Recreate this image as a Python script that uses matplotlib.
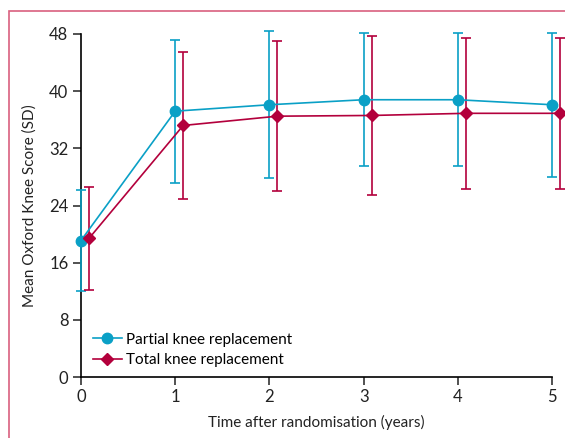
import matplotlib.pyplot as plt
import numpy as np
from matplotlib.patches import Rectangle

plt.rcParams['font.family'] = ['Lato', 'DejaVu Sans']

years = [0, 1, 2, 3, 4, 5]

# partial knee replacement: mean and SD
partial_mean = [19.1, 37.2, 38.1, 38.8, 38.8, 38.1]
partial_sd = [7.0, 10.0, 10.3, 9.3, 9.3, 10.1]

# total knee replacement: mean and SD
total_mean = [19.4, 35.2, 36.5, 36.6, 36.9, 36.9]
total_sd = [7.2, 10.3, 10.5, 11.1, 10.6, 10.6]

blue = '#0aa0c6'
red = '#b3003c'
pink = '#d9607f'

fig = plt.figure(figsize=(5.65, 4.38), dpi=100)
ax = fig.add_axes([81 / 565, 1 - 377 / 438, 471 / 565, 343 / 438])

# pink frame (cropped on right and bottom)
fig.patches.append(Rectangle((9 / 565, -0.1), 1.2, 1.1 - 11 / 438,
                             transform=fig.transFigure, fill=False,
                             edgecolor=pink, linewidth=1.2))

x = np.array(years, dtype=float)
offset = 0.085

ax.errorbar(x, partial_mean, yerr=partial_sd, color=blue, marker='o', markersize=7.5,
            linewidth=1.2, elinewidth=1.2, capsize=3.8, capthick=1.2,
            label='Partial knee replacement', clip_on=False, zorder=3)
ax.errorbar(x + offset, total_mean, yerr=total_sd, color=red, marker='D', markersize=6.5,
            linewidth=1.2, elinewidth=1.2, capsize=3.8, capthick=1.2,
            label='Total knee replacement', clip_on=False, zorder=3)

ax.set_xlim(0, 5)
ax.set_ylim(0, 48)
ax.set_xticks(years)
ax.set_yticks([0, 8, 16, 24, 32, 40, 48])
ax.spines['top'].set_visible(False)
ax.spines['right'].set_visible(False)
ax.spines['left'].set_linewidth(1.2)
ax.spines['bottom'].set_linewidth(1.2)
ax.tick_params(length=6, width=1.1, labelsize=12, colors='#222222', pad=3)

ax.set_xlabel('Time after randomisation (years)', fontsize=11, color='#222222', labelpad=7)
ax.set_ylabel('Mean Oxford Knee Score (SD)', fontsize=11, color='#222222', labelpad=9)

handles, labels = ax.get_legend_handles_labels()
handles = [h[0] for h in handles]
ax.legend(handles, labels, loc='lower left', bbox_to_anchor=(0.012, 0.01), frameon=False,
          fontsize=11, handlelength=1.9, handletextpad=0.3, labelspacing=0.45,
          borderaxespad=0)

fig.savefig('out.png', dpi=100)
